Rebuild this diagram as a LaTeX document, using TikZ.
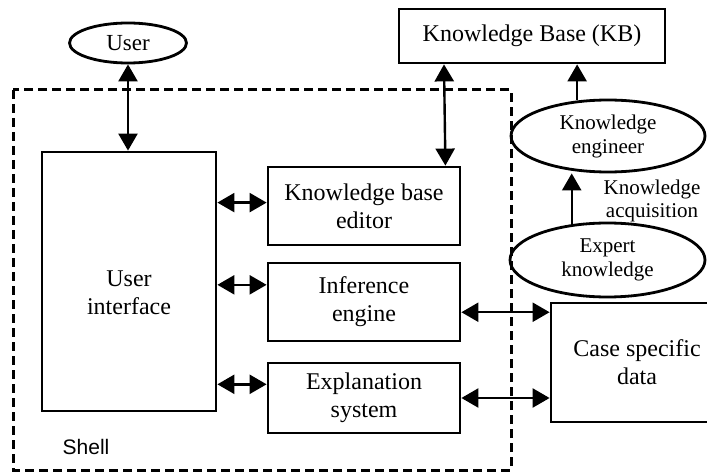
\documentclass[tikz,border=0pt]{standalone}
\usepackage{fontspec}
\setmainfont{Liberation Serif}
\newfontfamily\shellfont{Liberation Sans}
\usetikzlibrary{arrows.meta,shapes.geometric}

\begin{document}
\begin{tikzpicture}[x=1pt,y=-1pt,
  box/.style={draw,line width=2.8pt,align=center,inner sep=0pt,font=\fontsize{24}{28}\selectfont},
  oval/.style={draw,ellipse,line width=2.8pt,align=center,inner sep=0pt,font=\fontsize{21}{24}\selectfont},
  dbl/.style={{Triangle[length=17pt,width=19pt]}-{Triangle[length=17pt,width=19pt]},line width=2.4pt},
  sgl/.style={-{Triangle[length=17pt,width=19pt]},line width=2.4pt}]
 \useasboundingbox (0,0) rectangle (707,473);

 % shell
 \draw[line width=3pt,dash pattern=on 9pt off 5pt] (13,90) rectangle (511,470);
 \node[font=\shellfont\fontsize{21}{24}\selectfont] (SH) at (86,447) {Shell};

 \node[oval,minimum width=117pt,minimum height=40pt,font=\fontsize{23}{26}\selectfont] (U) at (128,43) {User};
 \node[box,minimum width=174pt,minimum height=259pt] (UI) at (129,281.5)
   {\raisebox{-20pt}[0pt][0pt]{\begin{tabular}{@{}c@{}}User\\interface\end{tabular}}};
 \node[box,minimum width=192pt,minimum height=78pt] (ED) at (364,206) {Knowledge base\\editor};
 \node[box,minimum width=192pt,minimum height=78pt] (IE) at (364,302) {Inference\\engine};
 \node[box,minimum width=192pt,minimum height=70pt] (EX) at (364,398) {Explanation\\system};
 \node[box,minimum width=266pt,minimum height=54pt] (KB) at (532,36) {Knowledge Base (KB)};
 \node[oval,minimum width=194pt,minimum height=72pt] (EN) at (608,136) {Knowledge\\engineer};
 \node[oval,minimum width=195pt,minimum height=74pt] (XK) at (607.5,260) {Expert\\knowledge};
 \node[align=center,font=\fontsize{21}{23}\selectfont] (KA) at (652,201) {Knowledge\\acquisition};
 \node[box,minimum width=172pt,minimum height=119pt] (CS) at (637,362.5) {Case specific\\data};

 \draw[dbl] (U.south) -- (U.south |- UI.north);
 \draw[dbl] (UI.east |- ED.178) -- (ED.178);
 \draw[dbl] (UI.east |- IE.170) -- (IE.170);
 \draw[dbl] (UI.east |- EX.172) -- (EX.172);
 \draw[dbl] (KB.south -| 444,0) -- ([xshift=-16pt]ED.north east);
 \draw[dbl] (IE.354) -- (IE.354 -| CS.west);
 \draw[dbl] (EX.east) -- (EX.east -| CS.west);
 \draw[sgl] (EN.131) -- (EN.131 |- KB.south);
 \draw[sgl] (XK.135) -- (XK.135 |- EN.south);
\end{tikzpicture}
\end{document}
